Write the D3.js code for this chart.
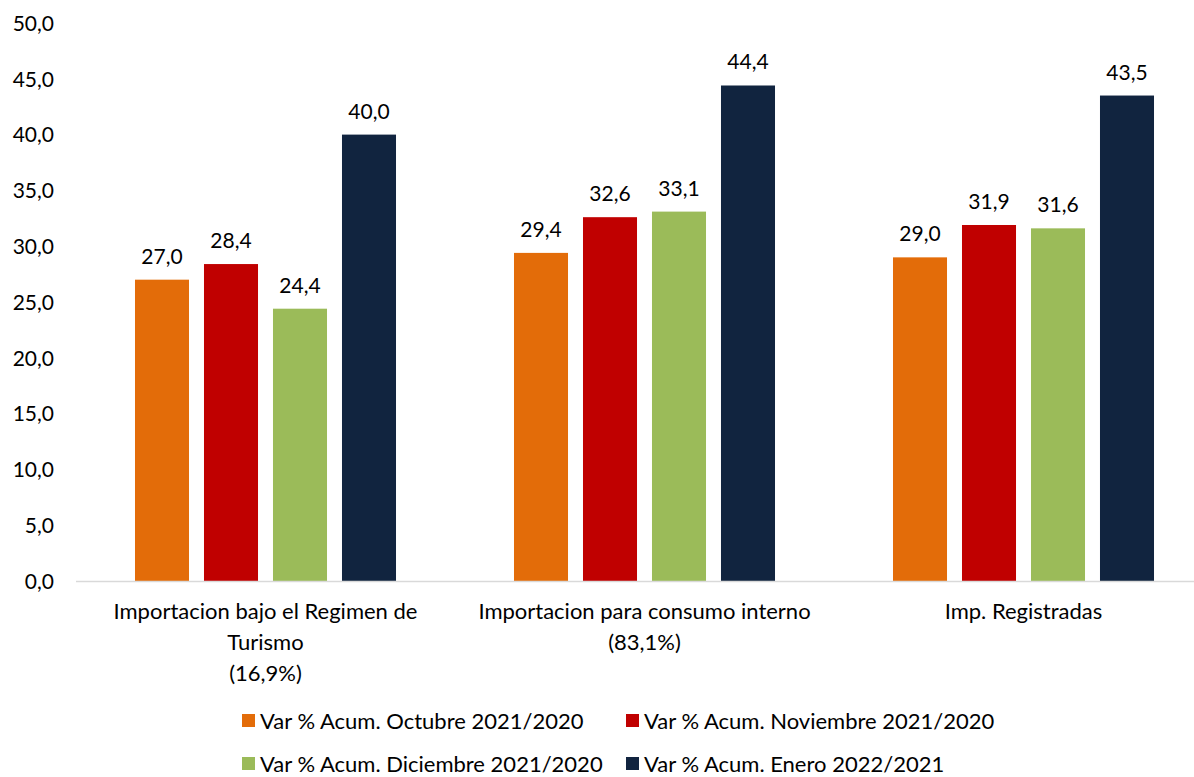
<!DOCTYPE html>
<html><head><meta charset="utf-8">
<script src="https://cdn.jsdelivr.net/npm/d3@7"></script>
<style>body{margin:0;background:#fff}svg{display:block}text{font-family:Lato,"Open Sans",sans-serif;fill:#000}</style>
</head><body>
<svg id="c" width="1194" height="777"></svg>
<script>
const categories = [["Importacion bajo el Regimen de","Turismo","(16,9%)"],["Importacion para consumo interno","(83,1%)"],["Imp. Registradas"]];
const seriesNames = ["Var % Acum. Octubre 2021/2020","Var % Acum. Noviembre 2021/2020","Var % Acum. Diciembre 2021/2020","Var % Acum. Enero 2022/2021"];
const octubre = [27.0, 29.4, 29.0];
const noviembre = [28.4, 32.6, 31.9];
const diciembre = [24.4, 33.1, 31.6];
const enero = [40.0, 44.4, 43.5];
const yTicks = [0,5,10,15,20,25,30,35,40,45,50];
const colors = ["#E36C09","#C00000","#9BBB59","#11243F"];
const series = [octubre, noviembre, diciembre, enero];

const svg = d3.select("#c");
const fmt = v => v.toFixed(1).replace(".", ",");
const y = d3.scaleLinear().domain([0,50]).range([581,23]);
const x0 = d3.scaleBand().domain(d3.range(categories.length)).range([76,1213]).paddingInner(0).paddingOuter(0);
const x1 = d3.scaleBand().domain(d3.range(series.length)).range([0, x0.bandwidth()]).paddingInner(0.217).paddingOuter(0.855);

// y axis labels
const yAxis = d3.axisLeft(y).tickValues(yTicks).tickFormat(fmt).tickSize(0).tickPadding(0);
const ga = svg.append("g").attr("transform","translate(54,0)").call(yAxis);
ga.select(".domain").remove();
ga.selectAll("text").attr("font-size",21).attr("font-family","Lato,'Open Sans',sans-serif").attr("fill","#000").attr("dy","0.35em");

// bars
series.forEach((s, si) => {
  svg.append("g").selectAll("rect").data(s).join("rect")
    .attr("x",(d,i)=>x0(i)+x1(si)).attr("width",x1.bandwidth())
    .attr("y",d=>y(d)).attr("height",d=>y(0)-y(d)).attr("fill",colors[si]);
  svg.append("g").selectAll("text").data(s).join("text")
    .attr("x",(d,i)=>x0(i)+x1(si)+x1.bandwidth()/2).attr("y",d=>y(d)-16)
    .attr("text-anchor","middle").attr("font-size",21).text(fmt);
});

// baseline
svg.append("line").attr("x1",76).attr("x2",1213).attr("y1",y(0)+0.5).attr("y2",y(0)+0.5).attr("stroke","#d9d9d9").attr("stroke-width",1.5);

// category labels
categories.forEach((lines,i)=>{
  const t = svg.append("text").attr("text-anchor","middle").attr("font-size",22)
    .attr("x", x0(i)+x0.bandwidth()/2).attr("y",619);
  lines.forEach((l,j)=>t.append("tspan").attr("x",x0(i)+x0.bandwidth()/2).attr("dy", j?31:0).text(l));
});

// legend
const legPos = [[242,721],[626,721],[242,764],[626,764]];
seriesNames.forEach((n,i)=>{
  const [lx,ly] = legPos[i];
  svg.append("rect").attr("x",lx).attr("y",ly-7).attr("width",13).attr("height",13).attr("fill",colors[i]);
  svg.append("text").attr("x",lx+18).attr("y",ly).attr("dy","0.35em").attr("font-size",22).text(n);
});
</script>
</body></html>
